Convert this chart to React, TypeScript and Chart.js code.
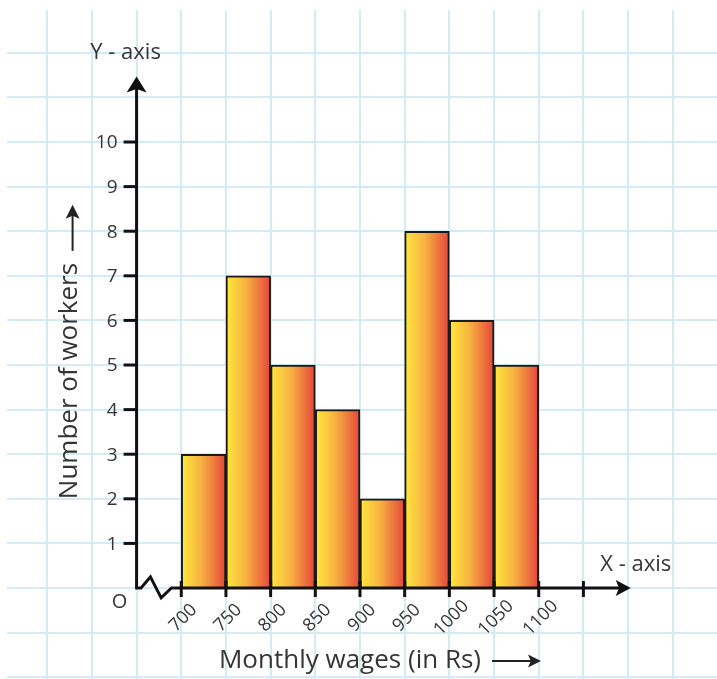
import React, { useEffect, useRef } from 'react';
import { Chart, registerables } from 'chart.js';

Chart.register(...registerables);

// ---------------- data ----------------
const classStarts = [700, 750, 800, 850, 900, 950, 1000, 1050];
const classWidth = 50;
const workers = [3, 7, 5, 4, 2, 8, 6, 5];

const xTickValues = [700, 750, 800, 850, 900, 950, 1000, 1050, 1100, 1150];
const xTickLabels = ['700', '750', '800', '850', '900', '950', '1000', '1050', '1100', ''];
const yTickValues = [1, 2, 3, 4, 5, 6, 7, 8, 9, 10];
const yTickLabels = ['1', '2', '3', '4', '5', '6', '7', '8', '9', '10'];

// axis polyline (y-axis down to origin, zigzag "broken scale" mark, then x-axis)
const axisPathX = [650, 650, 655, 665.5, 677.5, 689, 1196];
const axisPathY = [11.25, 0, 0, 0.25, -0.22, 0, 0];
const yArrowTip = 11.47;
const xArrowTip = 1203;

const xTitle = 'Monthly wages (in Rs)';
const yTitle = 'Number of workers';
const yAxisName = 'Y - axis';
const xAxisName = 'X - axis';
const originLabel = 'O';

// ---------------- styles ----------------
const FONT = '"Open Sans", "Noto Sans", "DejaVu Sans", sans-serif';
const TEXT = '#353535';
const INK = '#111111';
const GRID = '#d3ebf3';

function arrowHead(ctx: CanvasRenderingContext2D, tipX: number, tipY: number, dirX: number, dirY: number, len: number, half: number) {
  const bx = tipX - dirX * len;
  const by = tipY - dirY * len;
  const nx = -dirY;
  const ny = dirX;
  const notch = len * 0.22;
  ctx.beginPath();
  ctx.moveTo(tipX, tipY);
  ctx.lineTo(bx + nx * half, by + ny * half);
  ctx.lineTo(tipX - dirX * (len - notch), tipY - dirY * (len - notch));
  ctx.lineTo(bx - nx * half, by - ny * half);
  ctx.closePath();
  ctx.fill();
}

const gridTicks = (step: number) => (s: any) => {
  const out: { value: number }[] = [];
  for (let v = Math.ceil(s.min / step) * step; v <= s.max; v += step) out.push({ value: v });
  s.ticks = out;
};

const decorPlugin = {
  id: 'histDecor',
  afterDatasetsDraw(chart: any) {
    const ctx: CanvasRenderingContext2D = chart.ctx;
    const xs = chart.scales.x;
    const ys = chart.scales.y;
    const ax = xs.getPixelForValue(axisPathX[0]);
    const ay = ys.getPixelForValue(0);
    const yTipPx = ys.getPixelForValue(yArrowTip);
    const xTipPx = xs.getPixelForValue(xArrowTip);

    ctx.save();
    ctx.fillStyle = INK;
    ctx.strokeStyle = INK;

    // axis arrowheads
    arrowHead(ctx, ax, yTipPx, 0, -1, 16, 10);
    arrowHead(ctx, xTipPx, ay, 1, 0, 15, 8);

    // y ticks + labels
    ctx.lineWidth = 3;
    ctx.font = `19px ${FONT}`;
    ctx.textAlign = 'right';
    ctx.textBaseline = 'middle';
    yTickValues.forEach((v, i) => {
      const py = ys.getPixelForValue(v);
      ctx.strokeStyle = INK;
      ctx.beginPath();
      ctx.moveTo(ax - 13, py);
      ctx.lineTo(ax, py);
      ctx.stroke();
      ctx.fillStyle = TEXT;
      ctx.fillText(yTickLabels[i], ax - 19, py + 1);
    });

    // x ticks + rotated labels
    ctx.font = `18px ${FONT}`;
    ctx.textAlign = 'center';
    xTickValues.forEach((v, i) => {
      const px = xs.getPixelForValue(v);
      ctx.strokeStyle = INK;
      ctx.beginPath();
      ctx.moveTo(px, ay - 7);
      ctx.lineTo(px, ay + 9);
      ctx.stroke();
      if (xTickLabels[i]) {
        ctx.save();
        ctx.translate(px + 2, ay + 30);
        ctx.rotate(-Math.PI / 4);
        ctx.fillStyle = TEXT;
        ctx.fillText(xTickLabels[i], 0, 0);
        ctx.restore();
      }
    });

    // axis names
    ctx.fillStyle = TEXT;
    ctx.font = `22px ${FONT}`;
    ctx.textAlign = 'center';
    ctx.fillText(yAxisName, ax - 11, yTipPx - 24);
    ctx.fillText(xAxisName, xTipPx + 5, ay - 23);
    ctx.font = `20px ${FONT}`;
    ctx.fillText(originLabel, ax - 17, ay + 14);

    // x title with arrow
    ctx.font = `26px ${FONT}`;
    const xtCx = xs.getPixelForValue(900) - 10;
    const xtCy = ay + 73;
    ctx.fillText(xTitle, xtCx, xtCy);
    const xtW = ctx.measureText(xTitle).width;
    const xa0 = xtCx + xtW / 2 + 11;
    const xa1 = xa0 + 49;
    ctx.strokeStyle = '#222';
    ctx.fillStyle = '#222';
    ctx.lineWidth = 2;
    ctx.beginPath();
    ctx.moveTo(xa0, xtCy);
    ctx.lineTo(xa1 - 10, xtCy);
    ctx.stroke();
    arrowHead(ctx, xa1, xtCy, 1, 0, 13, 6.5);

    // y title (rotated) with arrow
    const ytCx = ax - 67;
    const ytCy = ay - 207;
    ctx.save();
    ctx.translate(ytCx, ytCy);
    ctx.rotate(-Math.PI / 2);
    ctx.fillStyle = TEXT;
    ctx.fillText(yTitle, 0, 0);
    ctx.restore();
    const ytW = ctx.measureText(yTitle).width;
    const ya0 = ytCy - ytW / 2 - 12;
    const ya1 = ya0 - 46;
    ctx.beginPath();
    ctx.moveTo(ytCx + 3, ya0);
    ctx.lineTo(ytCx + 3, ya1 + 10);
    ctx.stroke();
    arrowHead(ctx, ytCx + 3, ya1, 0, -1, 14, 7);

    ctx.restore();
  },
};

export default function App() {
  const ref = useRef<HTMLCanvasElement>(null);

  useEffect(() => {
    const canvas = ref.current;
    if (!canvas) return;

    const barFill = (c: any) => {
      const chart = c.chart;
      const xs = chart.scales && chart.scales.x;
      if (!xs || c.type !== 'data' || c.dataIndex === undefined) return '#f5a541';
      const start = classStarts[c.dataIndex];
      const x0 = xs.getPixelForValue(start);
      const x1 = xs.getPixelForValue(start + classWidth);
      if (!isFinite(x0) || !isFinite(x1)) return '#f5a541';
      const g = chart.ctx.createLinearGradient(x0, 0, x1, 0);
      g.addColorStop(0, '#ffe83c');
      g.addColorStop(0.45, '#f7b242');
      g.addColorStop(1, '#e5453a');
      return g;
    };

    const chart = new Chart(canvas, {
      type: 'bar',
      data: {
        datasets: [
          {
            type: 'line',
            data: axisPathX.map((x, i) => ({ x, y: axisPathY[i] })),
            borderColor: INK,
            borderWidth: 3,
            pointRadius: 0,
            fill: false,
            tension: 0,
            order: 0,
            borderJoinStyle: 'miter',
            borderCapStyle: 'butt',
          } as any,
          {
            type: 'bar',
            data: classStarts.map((s, i) => ({ x: s + classWidth / 2, y: workers[i] })),
            backgroundColor: barFill,
            borderColor: '#1b1b1b',
            borderWidth: 2,
            barPercentage: 1,
            categoryPercentage: 1,
            order: 1,
          } as any,
        ],
      },
      options: {
        responsive: false,
        animation: false,
        events: [],
        layout: { padding: { left: 7, top: 10, right: 0, bottom: 0 } },
        plugins: {
          legend: { display: false },
          tooltip: { enabled: false },
        },
        scales: {
          x: {
            type: 'linear',
            min: 505,
            max: 1299.5,
            offset: false,
            border: { display: false },
            ticks: { display: false, stepSize: 50 },
            grid: { color: GRID, lineWidth: 2, drawTicks: false, offset: false },
            afterBuildTicks: gridTicks(50),
          },
          y: {
            type: 'linear',
            min: -2.04,
            max: 12.96,
            border: { display: false },
            ticks: { display: false, stepSize: 1 },
            grid: { color: GRID, lineWidth: 2, drawTicks: false },
            afterBuildTicks: gridTicks(1),
          },
        },
      } as any,
      plugins: [decorPlugin as any],
    });

    return () => chart.destroy();
  }, []);

  return (
    <div style={{ position: 'absolute', left: 0, top: 0, width: 717, height: 679, background: '#ffffff' }}>
      <canvas ref={ref} width={717} height={679} style={{ display: 'block' }} />
    </div>
  );
}
